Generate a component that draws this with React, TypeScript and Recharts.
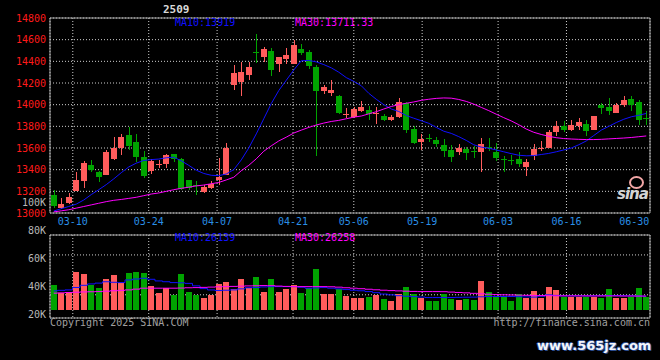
import React from 'react';
import { ComposedChart, Bar, Line, XAxis, YAxis, CartesianGrid, ReferenceArea } from 'recharts';

const DATES = [
  '03-05','03-06','03-07','03-10','03-11','03-12','03-13','03-14','03-17','03-18',
  '03-19','03-20','03-21','03-24','03-25','03-26','03-27','03-28','03-31','04-01',
  '04-02','04-03','04-07','04-08','04-09','04-10','04-11','04-14','04-15','04-16',
  '04-17','04-18','04-21','04-22','04-23','04-24','04-25','04-28','04-29','04-30',
  '05-06','05-07','05-08','05-09','05-12','05-13','05-14','05-15','05-16','05-19',
  '05-20','05-21','05-22','05-23','05-26','05-27','05-28','05-29','05-30','06-03',
  '06-04','06-05','06-06','06-09','06-10','06-11','06-12','06-13','06-16','06-17',
  '06-18','06-19','06-20','06-23','06-24','06-25','06-26','06-27','06-30','07-01',
];

const OPEN = [
  13162,13043,13092,13202,13294,13447,13380,13355,13496,13600,
  13722,13658,13520,13386,13447,13456,13545,13502,13309,13254,
  13196,13233,13306,13355,14182,14212,14273,14485,14439,14494,
  14371,14426,14380,14518,14488,14350,14126,14105,14081,13912,
  13882,13937,13952,13920,13900,13857,13885,14013,13777,13652,
  13692,13670,13630,13585,13560,13591,13572,13563,13609,13563,
  13499,13490,13502,13422,13530,13597,13600,13744,13805,13768,
  13799,13823,13768,13998,13980,13927,13998,14053,14022,13875,
];
const HIGH = [
  13208,13135,13181,13380,13478,13493,13386,13585,13701,13728,
  13790,13728,13575,13502,13487,13548,13548,13508,13309,13294,
  13263,13300,13508,13649,14365,14396,14396,14650,14533,14527,
  14436,14527,14595,14564,14503,14365,14182,14227,14090,13967,
  13980,14035,13992,13980,13918,13906,14062,14022,13799,13732,
  13729,13698,13686,13631,13640,13612,13621,13692,13692,13649,
  13523,13533,13566,13502,13637,13667,13768,13845,13851,13860,
  13875,13860,13897,14013,14059,14013,14084,14081,14044,13937,
];
const LOW = [
  13050,13034,13086,13202,13230,13376,13285,13355,13493,13533,
  13579,13468,13324,13361,13416,13416,13468,13208,13208,13165,
  13187,13217,13263,13349,14136,14084,14227,14381,14396,14267,
  14304,14371,14371,14457,14325,13523,14096,14084,13912,13875,
  13875,13930,13860,13820,13851,13845,13875,13738,13637,13585,
  13652,13606,13514,13468,13539,13487,13505,13377,13575,13477,
  13383,13441,13422,13346,13487,13569,13600,13707,13747,13753,
  13762,13707,13762,13912,13906,13921,13983,13937,13814,13814,
];
const CLOSE = [
  13064,13086,13144,13309,13465,13401,13331,13563,13600,13704,
  13615,13514,13346,13478,13452,13536,13502,13220,13233,13248,
  13239,13266,13331,13597,14289,14304,14350,14475,14512,14319,
  14436,14463,14555,14481,14359,14126,14160,14136,13927,13918,
  13961,13977,13912,13925,13860,13888,14022,13768,13646,13686,
  13686,13640,13575,13514,13597,13551,13566,13637,13603,13505,
  13493,13484,13456,13468,13594,13603,13750,13799,13768,13814,
  13836,13753,13897,13973,13937,13998,14044,13998,13860,13869,
];
const VOLUME = [
  46700,31500,34500,70600,67300,47300,41300,58000,64900,50400,
  69000,70600,68800,44900,32700,40700,28500,66700,34500,28500,
  23600,28500,49200,51200,40000,57600,41200,61500,33900,57600,
  33900,40000,45800,32700,40700,75800,30300,30300,39400,26700,
  23600,23600,25500,28500,21800,16400,30300,43600,30600,23600,
  17900,17900,30600,21200,19400,21200,19400,54000,33900,25500,
  26700,17600,30300,22400,35800,23600,43000,37600,25500,25500,
  25500,25500,25500,23600,39400,23600,23600,25500,41200,25500,
];
const MA10 = [
  13018,13040,13060,13082,13120,13170,13215,13262,13315,13372,
  13425,13460,13485,13493,13498,13510,13515,13482,13440,13395,
  13365,13348,13345,13360,13400,13490,13600,13730,13870,14010,
  14130,14225,14320,14405,14408,14395,14370,14340,14300,14250,
  14215,14175,14105,14050,14000,13960,13937,13900,13875,13852,
  13828,13790,13755,13735,13705,13670,13630,13608,13598,13582,
  13565,13548,13533,13528,13530,13540,13550,13565,13582,13600,
  13630,13665,13715,13765,13800,13835,13865,13888,13902,13919,
];
const MA30 = [
  13010,13020,13030,13045,13060,13075,13090,13105,13117,13125,
  13135,13145,13160,13175,13185,13200,13215,13228,13238,13250,
  13258,13270,13282,13305,13330,13390,13440,13500,13570,13620,
  13665,13700,13738,13765,13790,13812,13830,13845,13855,13870,
  13885,13895,13915,13935,13960,13983,14000,14013,14025,14040,
  14050,14058,14062,14060,14048,14030,14005,13975,13945,13912,
  13880,13850,13815,13775,13745,13725,13708,13695,13687,13683,
  13680,13678,13678,13680,13684,13688,13692,13697,13704,13711.33,
];
const VMA10 = [
  35800,36800,37600,42000,46000,48500,50000,52500,51500,51000,
  55800,57500,58900,57000,54000,52500,50900,50500,49500,45000,
  40000,37500,36400,37000,37600,39500,41500,42000,43000,43600,
  43600,43600,43600,42500,40700,41200,41800,40700,39500,38200,
  37000,36000,34500,32500,30000,28500,27000,26000,25300,24500,
  23600,23600,23600,23600,24000,24200,24400,25000,25500,25500,
  25500,25500,25200,24800,24400,26000,28500,27500,26700,26700,
  26700,26700,26700,27000,27300,27300,27000,26700,26400,26139,
];
const VMA30 = [
  31600,32200,32800,33400,33800,34200,34500,35200,36000,36800,
  37600,39000,40700,40700,40700,40700,40700,41000,41500,41800,
  42200,42700,43200,43600,44000,44500,44900,45200,45500,45300,
  44600,44000,43600,43600,43600,43600,43600,43300,42600,41500,
  40700,39800,38800,37800,37000,36300,35800,35200,34800,34500,
  34500,34500,34300,33600,32900,32200,31300,30400,29700,29000,
  28600,28300,28000,27700,27400,27200,27000,26800,26700,26700,
  26700,26600,26600,26600,26500,26500,26400,26400,26300,26258,
];

const PRICE_TICKS = [13000, 13200, 13400, 13600, 13800, 14000, 14200, 14400, 14600, 14800];
const GRID_DATE_INDEX = [3, 13, 22, 32, 40, 49, 59, 68];
const LABEL_DATE_INDEX = [3, 13, 22, 32, 40, 49, 59, 68, 78];
const LABEL_DATES = ['03-10', '03-24', '04-07', '04-21', '05-06', '05-19', '06-03', '06-16', '06-30'];
const VOL_LABEL_TICKS = [20000, 40000, 60000, 80000, 100000];
const VOL_GRID_TICKS = [1, 2, 3];

const TITLE = '2509';
const UP = '#ff5c5c';
const DOWN = '#00a300';
const MA10_COLOR = '#1010ff';
const MA30_COLOR = '#ff00ff';
const GRID = '#cfcfcf';
const BORDER = '#a8a8a8';
const MONO = '"DejaVu Sans Mono", monospace';

const rows = DATES.map((d, i) => ({
  i,
  date: d,
  range: [LOW[i], HIGH[i]],
  open: OPEN[i],
  high: HIGH[i],
  low: LOW[i],
  close: CLOSE[i],
  vol: VOLUME[i],
  ma10: MA10[i],
  ma30: MA30[i],
  vma10: VMA10[i],
  vma30: VMA30[i],
}));

const Candle = (props: any) => {
  const { x, y, width, height, payload } = props;
  if (!payload) return null;
  const { open, close, high, low } = payload;
  const top = Math.min(y, y + height);
  const h = Math.abs(height);
  const span = high - low || 1;
  const py = (v: number) => top + ((high - v) / span) * h;
  const up = close >= open;
  const color = up ? UP : DOWN;
  const bx = Math.floor(x);
  const cx = bx + Math.floor(width / 2) + 0.5;
  const bTop = py(Math.max(open, close));
  const bBot = py(Math.min(open, close));
  return (
    <g shapeRendering="crispEdges">
      <line x1={cx} x2={cx} y1={py(high)} y2={py(low)} stroke={color} strokeWidth={1} />
      <rect x={bx} y={bTop} width={width} height={Math.max(1, bBot - bTop)} fill={color} />
    </g>
  );
};

const VolBar = (props: any) => {
  const { x, y, width, height, payload } = props;
  if (!payload) return null;
  const color = payload.close >= payload.open ? UP : DOWN;
  const top = Math.min(y, y + height);
  return <rect x={Math.floor(x)} y={top} width={width} height={Math.abs(height)} fill={color} shapeRendering="crispEdges" />;
};

const DateTick = (props: any) => {
  const { x, y, payload } = props;
  const k = LABEL_DATE_INDEX.indexOf(payload.value);
  const last = k === LABEL_DATE_INDEX.length - 1;
  return (
    <text
      x={last ? x + 7 : x}
      y={y}
      textAnchor={last ? 'end' : 'middle'}
      dominantBaseline="central"
      fill="#2a8fe6"
      fontSize={10}
      fontFamily={MONO}
    >
      {LABEL_DATES[k]}
    </text>
  );
};

const txt = (extra: React.CSSProperties): React.CSSProperties => ({
  position: 'absolute',
  fontFamily: MONO,
  fontSize: 10,
  lineHeight: '10px',
  whiteSpace: 'nowrap',
  ...extra,
});

export default function App() {
  return (
    <div style={{ position: 'fixed', left: 0, top: 0, width: 660, height: 360, background: '#000', overflow: 'hidden' }}>
      <div style={{ position: 'absolute', left: 0, top: 0 }}>
        <ComposedChart width={660} height={235} data={rows} margin={{ top: 18, right: 10, bottom: 0, left: 0 }}>
          <XAxis
            xAxisId="lab"
            dataKey="i"
            type="number"
            domain={[0, 79]}
            ticks={LABEL_DATE_INDEX}
            interval={0}
            height={22}
            axisLine={false}
            tickLine={false}
            tickSize={0}
            tickMargin={8}
            tick={<DateTick />}
            allowDataOverflow
          />
          <XAxis xAxisId="cat" dataKey="date" type="category" hide height={0} />
          <XAxis xAxisId="grid" dataKey="i" type="number" domain={[0, 79]} ticks={GRID_DATE_INDEX} hide height={0} allowDataOverflow />
          <YAxis
            yAxisId="price"
            domain={[13000, 14800]}
            ticks={PRICE_TICKS}
            interval={0}
            width={50}
            axisLine={false}
            tickLine={false}
            tickSize={0}
            tickMargin={4}
            allowDataOverflow
            tick={{ fill: '#ff1a1a', fontSize: 10, fontFamily: MONO }}
          />
          <CartesianGrid xAxisId="grid" yAxisId="price" stroke={GRID} strokeDasharray="1 2" />
          <ReferenceArea xAxisId="grid" yAxisId="price" x1={0} x2={79} y1={13000} y2={14800} fill="none" stroke={BORDER} strokeWidth={1} />
          <Bar xAxisId="cat" yAxisId="price" dataKey="range" barSize={6} shape={<Candle />} isAnimationActive={false} />
          <Line xAxisId="cat" yAxisId="price" dataKey="ma10" stroke={MA10_COLOR} strokeWidth={1} dot={false} activeDot={false} isAnimationActive={false} />
          <Line xAxisId="cat" yAxisId="price" dataKey="ma30" stroke={MA30_COLOR} strokeWidth={1} dot={false} activeDot={false} isAnimationActive={false} />
        </ComposedChart>
      </div>

      <div style={{ position: 'absolute', left: 0, top: 0 }}>
        <ComposedChart width={660} height={320} data={rows} margin={{ top: 235, right: 10, bottom: 2, left: 50 }}>
          <XAxis xAxisId="cat" dataKey="date" type="category" hide height={0} />
          <XAxis xAxisId="grid" dataKey="i" type="number" domain={[0, 79]} ticks={GRID_DATE_INDEX} hide height={0} allowDataOverflow />
          <YAxis yAxisId="vol" domain={[-13800, 138000]} hide width={0} allowDataOverflow />
          <YAxis yAxisId="g" domain={[-0.165, 4]} ticks={VOL_GRID_TICKS} hide width={0} allowDataOverflow />
          <CartesianGrid xAxisId="grid" yAxisId="g" stroke={GRID} strokeDasharray="1 2" />
          <ReferenceArea xAxisId="grid" yAxisId="g" x1={0} x2={79} y1={-0.165} y2={4} fill="none" stroke={BORDER} strokeWidth={1} />
          <Bar xAxisId="cat" yAxisId="vol" dataKey="vol" barSize={6} shape={<VolBar />} isAnimationActive={false} />
          <Line xAxisId="cat" yAxisId="vol" type="step" dataKey="vma10" stroke={MA10_COLOR} strokeWidth={1} dot={false} activeDot={false} isAnimationActive={false} />
          <Line xAxisId="cat" yAxisId="vol" type="step" dataKey="vma30" stroke={MA30_COLOR} strokeWidth={1} dot={false} activeDot={false} isAnimationActive={false} />
        </ComposedChart>
      </div>

      <div style={{ position: 'absolute', left: 0, top: 0 }}>
        <ComposedChart width={660} height={360} data={rows} margin={{ top: 202, right: 10, bottom: 46, left: 0 }}>
          <XAxis dataKey="i" type="number" domain={[0, 79]} hide height={0} />
          <YAxis
            domain={[20000, 100000]}
            ticks={VOL_LABEL_TICKS}
            interval={0}
            width={50}
            axisLine={false}
            tickLine={false}
            tickSize={0}
            tickMargin={4}
            tickFormatter={(v: number) => `${v / 1000}K`}
            tick={{ fill: '#b8b8b8', fontSize: 10, fontFamily: MONO }}
            allowDataOverflow
          />
        </ComposedChart>
      </div>

      <div style={txt({ left: 163, top: 4, fontSize: 11, lineHeight: '11px', fontWeight: 'bold', color: '#d8d8d8' })}>{TITLE}</div>
      <div style={txt({ left: 175, top: 18, color: MA10_COLOR })}>{`MA10:${MA10[MA10.length - 1]}`}</div>
      <div style={txt({ left: 295, top: 18, color: MA30_COLOR })}>{`MA30:${MA30[MA30.length - 1].toFixed(2)}`}</div>
      <div style={txt({ left: 175, top: 233, color: MA10_COLOR })}>{`MA10:${VMA10[VMA10.length - 1]}`}</div>
      <div style={txt({ left: 295, top: 233, color: MA30_COLOR })}>{`MA30:${VMA30[VMA30.length - 1]}`}</div>
      <div style={txt({ left: 50, top: 318, color: '#a0a0a0' })}>Copyright 2025 SINA.COM</div>
      <div style={txt({ right: 10, top: 318, color: '#a0a0a0' })}>http://finance.sina.com.cn</div>

      <div style={{ position: 'absolute', left: 629, top: 176, width: 11, height: 9, border: '2px solid #f2a6a6', borderRadius: '50%' }} />
      <div style={txt({ left: 617, top: 187, fontFamily: '"DejaVu Sans", sans-serif', fontSize: 15, lineHeight: '15px', fontWeight: 'bold', fontStyle: 'italic', color: '#d4d4d4', letterSpacing: -1 })}>sina</div>
      <div
        style={txt({
          left: 537,
          top: 338,
          fontFamily: '"DejaVu Sans", sans-serif',
          fontSize: 13,
          lineHeight: '16px',
          fontWeight: 'bold',
          color: '#f4f6fb',
          textShadow: '1px 1px 0 #2a4a8c, -1px 0 0 #2a4a8c, 0 -1px 0 #2a4a8c, 1px 0 0 #2a4a8c',
        })}
      >
        www.565jz.com
      </div>
    </div>
  );
}
